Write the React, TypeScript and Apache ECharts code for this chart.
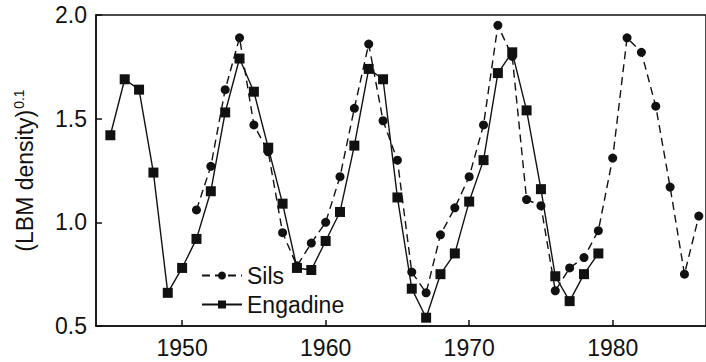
import React, { useEffect, useRef } from "react";
import * as echarts from "echarts";

// Larch budmoth density, transformed as (density)^0.1
const silsYears = [
  1951, 1952, 1953, 1954, 1955, 1956, 1957, 1958, 1959, 1960, 1961, 1962,
  1963, 1964, 1965, 1966, 1967, 1968, 1969, 1970, 1971, 1972, 1973, 1974,
  1975, 1976, 1977, 1978, 1979, 1980, 1981, 1982, 1983, 1984, 1985, 1986,
];
const silsValues = [
  1.06, 1.27, 1.64, 1.89, 1.47, 1.34, 0.95, 0.79, 0.9, 1.0, 1.22, 1.55,
  1.86, 1.49, 1.3, 0.76, 0.66, 0.94, 1.07, 1.22, 1.47, 1.95, 1.8, 1.11,
  1.08, 0.67, 0.78, 0.83, 0.96, 1.31, 1.89, 1.82, 1.56, 1.17, 0.75, 1.03,
];

const engadineYears = [
  1945, 1946, 1947, 1948, 1949, 1950, 1951, 1952, 1953, 1954, 1955, 1956,
  1957, 1958, 1959, 1960, 1961, 1962, 1963, 1964, 1965, 1966, 1967, 1968,
  1969, 1970, 1971, 1972, 1973, 1974, 1975, 1976, 1977, 1978, 1979,
];
const engadineValues = [
  1.42, 1.69, 1.64, 1.24, 0.66, 0.78, 0.92, 1.15, 1.53, 1.79, 1.63, 1.36,
  1.09, 0.78, 0.77, 0.91, 1.05, 1.37, 1.74, 1.69, 1.12, 0.68, 0.54, 0.75,
  0.85, 1.1, 1.3, 1.72, 1.82, 1.54, 1.16, 0.74, 0.62, 0.75, 0.85,
];

const yearTicks = [1950, 1960, 1970, 1980];

const FONT = "'Liberation Sans', Arial, Helvetica, sans-serif";

export default function App() {
  const ref = useRef<HTMLDivElement>(null);

  useEffect(() => {
    if (!ref.current) return;
    const chart = echarts.init(ref.current, undefined, { renderer: "svg" });
    const black = "#111";
    chart.setOption({
      animation: false,
      backgroundColor: "#fff",
      textStyle: { fontFamily: FONT },
      grid: {
        left: 96,
        right: -2,
        top: 15,
        bottom: 36,
        show: true,
        borderColor: black,
        borderWidth: 1.5,
        containLabel: false,
      },
      legend: {
        orient: "vertical",
        left: 196,
        top: 259,
        itemWidth: 40,
        itemHeight: 10,
        itemGap: 6,
        textStyle: { fontFamily: FONT, fontSize: 23, color: black },
        data: ["Sils", "Engadine"],
      },
      xAxis: {
        type: "value",
        min: 1944,
        max: 1986.5,
        splitLine: { show: false },
        axisLine: { lineStyle: { color: black, width: 1.5 } },
        axisTick: {
          inside: true,
          length: 6,
          lineStyle: { color: black, width: 1.5 },
          customValues: yearTicks,
        },
        axisLabel: {
          customValues: yearTicks,
          margin: 10,
          fontFamily: FONT,
          fontSize: 23,
          color: black,
          formatter: (v: number) => String(v),
        },
      },
      yAxis: {
        type: "value",
        min: 0.5,
        max: 2.0,
        interval: 0.5,
        splitLine: { show: false },
        axisLine: { lineStyle: { color: black, width: 1.5 } },
        axisTick: {
          inside: true,
          length: 6,
          lineStyle: { color: black, width: 1.5 },
        },
        axisLabel: {
          margin: 9,
          fontFamily: FONT,
          fontSize: 23,
          color: black,
          formatter: (v: number) => v.toFixed(1),
        },
        name: "{a|(LBM density)}{b|0.1}",
        nameLocation: "middle",
        nameGap: 58,
        nameRotate: 90,
        nameTextStyle: {
          fontFamily: FONT,
          color: black,
          rich: {
            a: { fontFamily: FONT, fontSize: 23, color: black },
            b: {
              fontFamily: FONT,
              fontSize: 14,
              color: black,
              padding: [0, 0, 12, 1],
            },
          },
        },
      },
      series: [
        {
          name: "Sils",
          type: "line",
          data: silsYears.map((y, i) => [y, silsValues[i]]),
          symbol: "circle",
          symbolSize: 9,
          itemStyle: { color: black },
          lineStyle: { color: black, width: 1.4, type: [8, 5] },
          z: 2,
        },
        {
          name: "Engadine",
          type: "line",
          data: engadineYears.map((y, i) => [y, engadineValues[i]]),
          symbol: "rect",
          symbolSize: 10,
          itemStyle: { color: black },
          lineStyle: { color: black, width: 1.4 },
          z: 3,
        },
      ],
    });
    return () => chart.dispose();
  }, []);

  return (
    <div
      ref={ref}
      style={{
        position: "fixed",
        left: 0,
        top: 0,
        width: 706,
        height: 362,
        background: "#fff",
      }}
    />
  );
}
